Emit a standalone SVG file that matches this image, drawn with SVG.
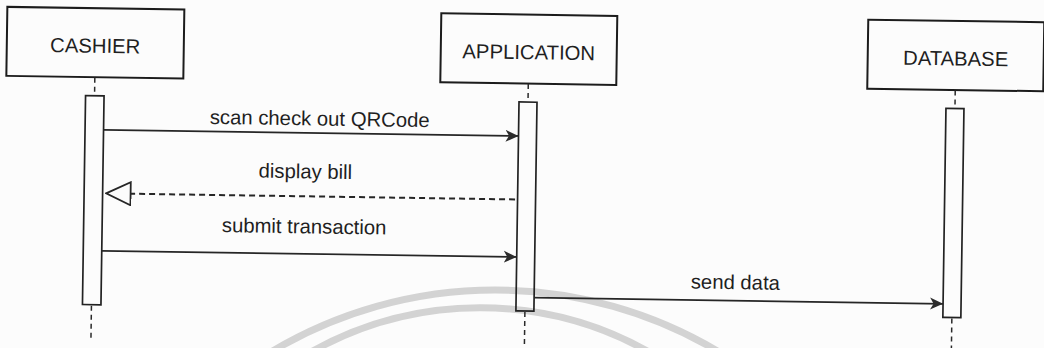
<svg xmlns="http://www.w3.org/2000/svg" width="1044" height="348" viewBox="0 0 1044 348">
  <style>
    .box { fill: none; stroke: #1c1c1c; stroke-width: 2; }
    .bar { fill: none; stroke: #222; stroke-width: 1.7; }
    .life { stroke: #2a2a2a; stroke-width: 1.5; stroke-dasharray: 5 4; fill: none; }
    .msg { stroke: #262626; stroke-width: 1.7; fill: none; }
    .ret { stroke: #262626; stroke-width: 2; fill: none; stroke-dasharray: 6 4; }
    .lbl { font-family: "Liberation Sans", Arial, Helvetica, sans-serif; font-size: 20.3px; fill: #1f1f1f; text-anchor: middle; }
    .wm { fill: none; stroke: #d3d3d3; stroke-width: 7; }
  </style>
  <defs>
    <marker id="arrow" viewBox="0 0 14 14" refX="13" refY="7" markerWidth="14" markerHeight="14" markerUnits="userSpaceOnUse" orient="auto">
      <path d="M0,1 L13,7 L0,13 L3.5,7 Z" fill="#2b2b2b" stroke="none"/>
    </marker>
    <marker id="open" viewBox="-1 -1 27 25" refX="24.5" refY="11.5" markerWidth="27" markerHeight="25" markerUnits="userSpaceOnUse" orient="auto">
      <path d="M0,0 L24.5,11.5 L0,23 Z" fill="#fcfcfc" stroke="#262626" stroke-width="1.8" stroke-dasharray="none"/>
    </marker>
  </defs>
  <rect x="0" y="0" width="1044" height="348" fill="#fcfcfc"/>
  <g id="watermark">
    <path class="wm" d="M271,352 A436,436 0 0 1 719,352"/>
    <path class="wm" d="M311,352 A345,345 0 0 1 649,352"/>
  </g>
  <g id="diagram" transform="rotate(0.85 520 170)">
    <g id="node-cashier">
      <rect class="box" x="5" y="14.5" width="177" height="69"/>
      <text class="lbl" x="93.5" y="59">CASHIER</text>
      <line class="life" x1="93.5" y1="84" x2="93.5" y2="102"/>
      <rect class="bar" x="84.5" y="102" width="18.5" height="209"/>
      <line class="life" x1="93.5" y1="312" x2="93.5" y2="345"/>
    </g>
    <g id="node-application">
      <rect class="box" x="439" y="14.5" width="176" height="69"/>
      <text class="lbl" x="527" y="59">APPLICATION</text>
      <line class="life" x1="527" y1="84" x2="527" y2="102"/>
      <rect class="bar" x="518" y="102" width="18" height="209"/>
      <line class="life" x1="527" y1="312" x2="527" y2="345"/>
    </g>
    <g id="node-database">
      <rect class="box" x="866" y="14.5" width="176" height="69"/>
      <text class="lbl" x="954" y="59">DATABASE</text>
      <line class="life" x1="954" y1="84" x2="954" y2="102"/>
      <rect class="bar" x="945" y="102" width="18" height="209"/>
      <line class="life" x1="954" y1="312" x2="954" y2="345"/>
    </g>
    <g id="connectors">
      <line class="msg" x1="103" y1="136" x2="518" y2="136" marker-end="url(#arrow)"/>
      <text class="lbl" x="319" y="128.5">scan check out QRCode</text>
      <line class="ret" x1="515.5" y1="199.5" x2="106.5" y2="199.5" marker-end="url(#open)"/>
      <text class="lbl" x="305.5" y="181.5">display bill</text>
      <line class="msg" x1="103" y1="257" x2="518" y2="257" marker-end="url(#arrow)"/>
      <text class="lbl" x="305" y="236.5">submit transaction</text>
      <line class="msg" x1="536" y1="297.5" x2="945" y2="297.5" marker-end="url(#arrow)"/>
      <text class="lbl" x="737" y="286">send data</text>
    </g>
  </g>
</svg>
